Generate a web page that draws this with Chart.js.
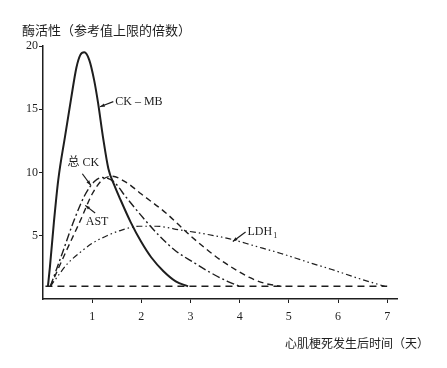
<!DOCTYPE html>
<html>
<head>
<meta charset="utf-8">
<script src="https://cdn.jsdelivr.net/npm/chart.js@4.4.1/dist/chart.umd.min.js"></script>
<style>
  body { margin: 0; background: #fff; }
  #wrap { width: 447px; height: 368px; }
</style>
</head>
<body>
<div id="wrap"><canvas id="grafico" width="447" height="368"></canvas></div>
<script>
// days after infarction / multiples of upper reference limit
var ckmbDays   = [0.1, 0.14, 0.22, 0.31, 0.45, 0.57, 0.68, 0.76, 0.84, 0.94, 1.04, 1.12, 1.22, 1.33, 1.45, 1.57, 1.78, 2.0, 2.2, 2.45, 2.7, 2.95];
var ckmbValues = [1, 2.5, 6.0, 9.4, 12.9, 15.8, 18.3, 19.3, 19.5, 18.9, 17.3, 15.5, 12.8, 10.3, 9.0, 7.9, 6.1, 4.5, 3.3, 2.2, 1.4, 1.0];

var totalCkDays   = [0.15, 0.4, 0.61, 0.85, 1.05, 1.2, 1.43, 1.7, 2.04, 2.39, 2.7, 3.06, 3.4, 3.75, 4.0];
var totalCkValues = [1, 3.7, 6.0, 8.2, 9.3, 9.6, 9.3, 8.0, 6.4, 4.9, 3.8, 2.9, 2.1, 1.4, 1.0];

var astDays   = [0.15, 0.45, 0.76, 1.0, 1.2, 1.4, 1.7, 2.0, 2.5, 3.0, 3.5, 3.8, 4.2, 4.5, 4.85];
var astValues = [1, 3.6, 6.2, 8.3, 9.4, 9.7, 9.2, 8.3, 6.8, 5.0, 3.4, 2.6, 1.7, 1.25, 1.0];

var ldhDays   = [0.15, 0.3, 0.5, 0.76, 1.0, 1.3, 1.6, 1.95, 2.3, 2.8, 3.35, 3.8, 4.3, 4.84, 5.4, 5.86, 6.4, 6.95];
var ldhValues = [1, 1.8, 2.8, 3.7, 4.4, 5.0, 5.45, 5.75, 5.75, 5.45, 5.1, 4.75, 4.2, 3.6, 2.9, 2.35, 1.65, 1.0];

var baseDays   = [0.05, 7.0];
var baseValues = [1, 1];

var xTicks = [1, 2, 3, 4, 5, 6, 7];
var yTicks = [5, 10, 15, 20];

var yTitle = '酶活性（参考值上限的倍数）';
var xTitle = '心肌梗死发生后时间（天）';

// curve labels: text spot and arrow, in data units
var labels = [
    { text: 'CK – MB', align: 'left',   x: 1.47, y: 15.6, from: [1.43, 15.6], to: [1.16, 15.2] },
    { text: '总 CK',   align: 'center', x: 0.82, y: 10.8, from: [0.8, 9.9], to: [0.97, 9.0] },
    { text: 'AST',     align: 'center', x: 1.1,  y: 6.1,  from: [1.06, 6.8], to: [0.86, 7.4] },
    { text: 'LDH', sub: '1', align: 'left', x: 4.16, y: 5.3, from: [4.12, 5.3], to: [3.86, 4.55] }
];

function pts(xs, ys) {
    return xs.map(function (x, i) { return { x: x, y: ys[i] }; });
}

var ink = '#1e1e1e';

function serie(label, xs, ys, dash, width) {
    return {
        label: label,
        data: pts(xs, ys),
        showLine: true,
        borderColor: ink,
        borderWidth: width,
        borderDash: dash,
        pointRadius: 0,
        cubicInterpolationMode: 'monotone',
        fill: false
    };
}

var textos = {
    id: 'textos',
    afterDraw: function (chart) {
        var c = chart.ctx, sx = chart.scales.x, sy = chart.scales.y;
        c.save();
        c.fillStyle = ink;
        c.strokeStyle = ink;
        c.textBaseline = 'middle';

        c.font = '13px "Noto Sans CJK SC"';
        c.textAlign = 'left';
        c.fillText(yTitle, 22, 30);

        c.font = '12px "Noto Sans CJK SC"';
        c.textAlign = 'right';
        c.fillText(xTitle, 429, 343);

        labels.forEach(function (l) {
            var px = sx.getPixelForValue(l.x), py = sy.getPixelForValue(l.y);
            c.font = '12px "Liberation Serif", "Noto Sans CJK SC"';
            c.textAlign = l.align;
            c.fillText(l.text, px, py);
            if (l.sub) {
                var w = c.measureText(l.text).width;
                c.textAlign = 'left';
                c.font = '8px "Liberation Serif"';
                c.fillText(l.sub, px + w + 1, py + 4);
            }
            var x1 = sx.getPixelForValue(l.from[0]), y1 = sy.getPixelForValue(l.from[1]);
            var x2 = sx.getPixelForValue(l.to[0]), y2 = sy.getPixelForValue(l.to[1]);
            c.lineWidth = 1.2;
            c.setLineDash([]);
            c.beginPath();
            c.moveTo(x1, y1);
            c.lineTo(x2, y2);
            c.stroke();
            var a = Math.atan2(y2 - y1, x2 - x1);
            c.beginPath();
            c.moveTo(x2, y2);
            c.lineTo(x2 - 5 * Math.cos(a - 0.35), y2 - 5 * Math.sin(a - 0.35));
            c.lineTo(x2 - 5 * Math.cos(a + 0.35), y2 - 5 * Math.sin(a + 0.35));
            c.closePath();
            c.fill();
        });
        c.restore();
    }
};

var ctx = document.getElementById('grafico');

var myChart = new Chart(ctx, {
    type: 'scatter',
    data: {
        datasets: [
            serie('CK-MB', ckmbDays, ckmbValues, [], 2),
            serie('总CK', totalCkDays, totalCkValues, [8, 3, 2, 3], 1.4),
            serie('AST', astDays, astValues, [6, 4], 1.4),
            serie('LDH1', ldhDays, ldhValues, [6, 3, 1.5, 3, 1.5, 3], 1.2),
            serie('参考值', baseDays, baseValues, [7, 5], 1.5)
        ]
    },
    options: {
        responsive: false,
        animation: false,
        layout: { padding: { top: 46, right: 50, left: 0, bottom: 0 } },
        plugins: {
            legend: { display: false },
            tooltip: { enabled: false }
        },
        scales: {
            x: {
                type: 'linear',
                min: 0,
                max: 7.2,
                afterBuildTicks: function (s) { s.ticks = xTicks.map(function (v) { return { value: v }; }); },
                afterFit: function (s) { s.height = 69; },
                border: { display: true, color: ink, width: 1.5 },
                grid: { drawOnChartArea: false, drawTicks: true, tickLength: 4, color: ink },
                ticks: { color: ink, padding: 7, font: { family: 'Liberation Serif', size: 12 } }
            },
            y: {
                min: 0,
                max: 20,
                afterBuildTicks: function (s) { s.ticks = yTicks.map(function (v) { return { value: v }; }); },
                afterFit: function (s) { s.width = 43; },
                border: { display: true, color: ink, width: 1.5 },
                grid: { drawOnChartArea: false, drawTicks: true, tickLength: 4, color: ink },
                ticks: { color: ink, padding: 1, font: { family: 'Liberation Serif', size: 12 } }
            }
        }
    },
    plugins: [textos]
});
</script>
</body>
</html>
